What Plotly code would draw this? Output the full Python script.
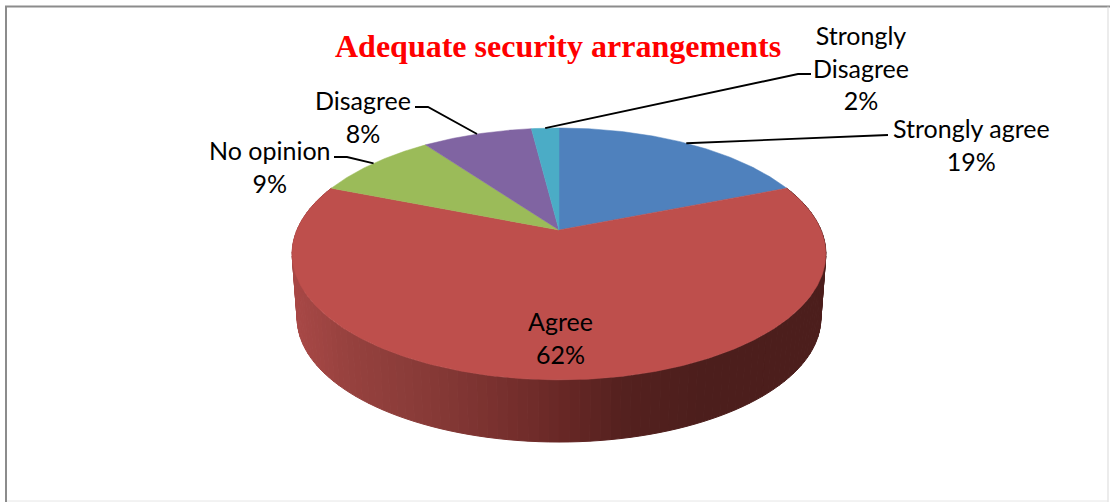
import numpy as np
import plotly.graph_objects as go

categories = ["Strongly agree", "Agree", "No opinion", "Disagree", "Strongly Disagree"]
percent = [19, 62, 9, 8, 2]
colors = ["#4F81BD", "#BE4F4C", "#9BBB59", "#8064A2", "#4BACC6"]
title_text = "Adequate security arrangements"

# projection of the tilted disc onto the picture
CX, CY, A, B, K = 559.0, 230.0, 262.0, 121.4, 0.19
FLOOR_Y, FLOOR_S = 295.0, 0.981


def proj(theta_deg, cy=CY, s=1.0):
    t = np.radians(theta_deg)
    u, v = np.sin(t), np.cos(t)
    d = 1 + K * v
    return CX + s * A * u / d, cy - s * B * v / d


def wall_color(x):
    xs = [295, 350, 430, 500, 559, 620, 700, 830]
    r = np.interp(x, xs, [168, 150, 135, 120, 105, 85, 76, 76])
    g = np.interp(x, xs, [72, 65, 58, 48, 40, 33, 30, 30])
    b = np.interp(x, xs, [70, 62, 55, 46, 38, 31, 28, 28])
    return f"rgb({r:.0f},{g:.0f},{b:.0f})"


fig = go.Figure()
edges = np.cumsum([0] + percent) * 3.6

# side wall of the front slice, one thin strip per step
t0, t1 = edges[1], edges[2]
steps = np.linspace(t0, t1, 121)
for a, b in zip(steps[:-1], steps[1:]):
    xt, yt = proj(np.array([a, b]))
    xb, yb = proj(np.array([b, a]), FLOOR_Y, FLOOR_S)
    col = wall_color((xt.mean() + xb.mean()) / 2)
    fig.add_trace(go.Scatter(
        x=list(xt) + list(xb) + [xt[0]], y=list(yt) + list(yb) + [yt[0]],
        mode="lines", fill="toself", fillcolor=col,
        line=dict(color=col, width=1), hoverinfo="skip", showlegend=False))

# top faces
for i, name in enumerate(categories):
    th = np.linspace(edges[i], edges[i + 1], max(int(percent[i] * 6), 8))
    xs, ys = proj(th)
    fig.add_trace(go.Scatter(
        x=[CX] + list(xs) + [CX], y=[CY] + list(ys) + [CY],
        mode="lines", fill="toself", fillcolor=colors[i],
        line=dict(color=colors[i], width=0.5), name=name,
        hoverinfo="name", showlegend=False))

# leader lines: (slice index, elbow, label end)
leaders = [
    (0, (880, 135), (888, 135)),
    (2, (347, 157), (334, 157)),
    (3, (428, 107), (415, 107)),
    (4, (798, 74), (811, 74)),
]
for i, elbow, end in leaders:
    mx, my = proj((edges[i] + edges[i + 1]) / 2)
    fig.add_trace(go.Scatter(
        x=[float(mx), elbow[0], end[0]], y=[float(my), elbow[1], end[1]],
        mode="lines", line=dict(color="black", width=1.8),
        hoverinfo="skip", showlegend=False))

label_pos = {
    "Strongly agree": (971, 144), "Agree": (560, 337), "No opinion": (270, 166),
    "Disagree": (363, 116), "Strongly Disagree": (861, 67),
}
annotations = []
for name, p in zip(categories, percent):
    txt = name.replace("Strongly Disagree", "Strongly<br>Disagree") + f"<br>{p}%"
    x, y = label_pos[name]
    annotations.append(dict(x=x, y=y, xref="x", yref="y", text=txt, showarrow=False,
                            xanchor="center", yanchor="middle", align="center",
                            font=dict(family="Lato", size=25, color="black")))
annotations.append(dict(x=558, y=46, xref="x", yref="y", text=f"<b>{title_text}</b>",
                        showarrow=False, xanchor="center", yanchor="middle",
                        font=dict(family="Liberation Serif", size=32, color="#FF0000")))

fig.update_layout(
    width=1110, height=502, margin=dict(l=0, r=0, t=0, b=0),
    paper_bgcolor="white", plot_bgcolor="white", annotations=annotations,
    xaxis=dict(range=[0, 1110], visible=False, fixedrange=True),
    yaxis=dict(range=[502, 0], visible=False, fixedrange=True),
    shapes=[
        dict(type="line", xref="x", yref="y", x0=6, x1=6, y0=6.5, y1=502, line=dict(color="#8C8C8C", width=2)),
        dict(type="line", xref="x", yref="y", x0=5, x1=1110, y0=6.5, y1=6.5, line=dict(color="#8C8C8C", width=2)),
        dict(type="line", xref="x", yref="y", x0=1108, x1=1108, y0=6.5, y1=502, line=dict(color="#D9D9D9", width=1)),
        dict(type="line", xref="x", yref="y", x0=7, x1=1108, y0=501, y1=501, line=dict(color="#E6E6E6", width=1)),
    ],
)
fig.write_html("out.html", config={"displayModeBar": False},
               post_script="document.body.style.margin='0';")
